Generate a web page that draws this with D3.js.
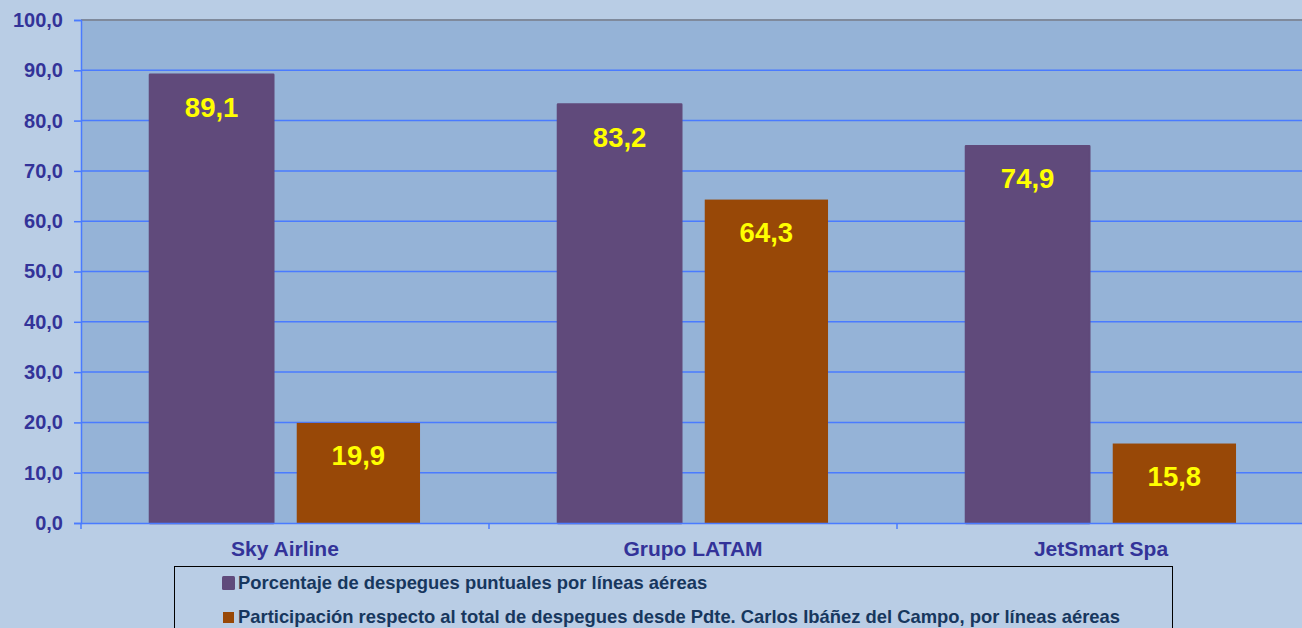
<!DOCTYPE html>
<html>
<head>
<meta charset="utf-8">
<script src="https://cdn.jsdelivr.net/npm/d3@7"></script>
<style>
  body { margin: 0; background: #B9CDE5; }
  svg { display: block; font-family: Arial, "Liberation Sans", sans-serif; }
</style>
</head>
<body>
<div id="chart"></div>
<script>
// data
const airlines = ["Sky Airline", "Grupo LATAM", "JetSmart Spa"]
const puntuales = [89.1, 83.2, 74.9]
const participacion = [19.9, 64.3, 15.8]
const seriesNames = [
    "Porcentaje de despegues puntuales por líneas aéreas",
    "Participación respecto al total de despegues desde Pdte. Carlos Ibáñez del Campo, por líneas aéreas"
]
const yTicks = [0, 10, 20, 30, 40, 50, 60, 70, 80, 90, 100]

const colors = ["#604A7B", "#984807"]

const W = 1302, H = 628
const plot = {left: 81, top: 20, right: 1305, bottom: 523}

const svg = d3.select("#chart").append("svg")
    .attr("width", W)
    .attr("height", H)

svg.append("rect")
    .attr("width", W).attr("height", H)
    .attr("fill", "#B9CDE5")

// scales
const x0 = d3.scaleBand()
    .domain(airlines)
    .range([plot.left, plot.right])
    .paddingInner(0)
    .paddingOuter(0)

const x1 = d3.scaleBand()
    .domain([0, 1])
    .range([0, x0.bandwidth()])
    .paddingInner(0.16)
    .paddingOuter(0.47)

const y = d3.scaleLinear()
    .domain([0, 100])
    .range([plot.bottom, plot.top])

const fmt = d => d3.format(".1f")(d).replace(".", ",")

// plot area
svg.append("rect")
    .attr("x", plot.left).attr("y", plot.top)
    .attr("width", plot.right - plot.left)
    .attr("height", plot.bottom - plot.top)
    .attr("fill", "#95B3D7")

// gridlines
svg.append("g")
    .selectAll("line")
    .data(yTicks.filter(d => d > 0 && d < 100))
    .join("line")
        .attr("x1", plot.left).attr("x2", plot.right)
        .attr("y1", d => y(d)).attr("y2", d => y(d))
        .attr("stroke", "#4A7BFF")
        .attr("stroke-width", 1.5)

// top border
svg.append("line")
    .attr("x1", plot.left).attr("x2", plot.right)
    .attr("y1", plot.top).attr("y2", plot.top)
    .attr("stroke", "#7F8A9C")
    .attr("stroke-width", 2)

// bars
const series = [puntuales, participacion]
const groups = svg.append("g")
    .selectAll("g")
    .data(airlines)
    .join("g")
        .attr("transform", d => `translate(${x0(d)},0)`)

groups.selectAll("rect")
    .data((d, i) => series.map((s, k) => ({k, v: s[i]})))
    .join("rect")
        .attr("x", d => x1(d.k))
        .attr("y", d => y(d.v))
        .attr("width", x1.bandwidth())
        .attr("height", d => y(0) - y(d.v))
        .attr("fill", d => colors[d.k])
        .attr("stroke", d => d.k ? "none" : colors[0])
        .attr("stroke-width", 2.5)
        .attr("stroke-linejoin", "round")

groups.selectAll("text")
    .data((d, i) => series.map((s, k) => ({k, v: s[i]})))
    .join("text")
        .attr("x", d => x1(d.k) + x1.bandwidth() / 2)
        .attr("y", d => y(d.v) + 42)
        .attr("text-anchor", "middle")
        .attr("fill", "#FFFF00")
        .attr("font-weight", "bold")
        .attr("font-size", 27.5)
        .text(d => fmt(d.v))

// y axis
const yAx = d3.axisLeft(y)
    .tickValues(yTicks)
    .tickSize(7)
    .tickFormat(fmt)

const yGroup = svg.append("g")
    .attr("transform", `translate(${plot.left},0)`)
    .call(yAx)

yGroup.select(".domain").attr("stroke", "#4A7BFF").attr("stroke-width", 1.5)
yGroup.selectAll(".tick line").attr("stroke", "#4A7BFF").attr("stroke-width", 1.5)
yGroup.selectAll(".tick text")
    .attr("x", -18)
    .attr("fill", "#333399")
    .attr("font-size", 20)
    .attr("font-weight", "bold")
    .attr("font-family", "Arial, 'Liberation Sans', sans-serif")

// x axis
const xAx = d3.axisBottom(x0).tickSize(0)
const xGroup = svg.append("g")
    .attr("transform", `translate(0,${plot.bottom})`)
    .call(xAx)

xGroup.select(".domain").attr("stroke", "#4A7BFF").attr("stroke-width", 1.5)
xGroup.selectAll(".tick text")
    .attr("y", 18)
    .attr("fill", "#333399")
    .attr("font-size", 21)
    .attr("font-weight", "bold")
    .attr("font-family", "Arial, 'Liberation Sans', sans-serif")

// category separators
svg.append("g")
    .selectAll("line")
    .data(airlines)
    .join("line")
        .attr("x1", d => x0(d)).attr("x2", d => x0(d))
        .attr("y1", plot.bottom).attr("y2", plot.bottom + 6)
        .attr("stroke", "#4A7BFF")
        .attr("stroke-width", 1.5)

// legend
const legend = svg.append("g")
legend.append("rect")
    .attr("x", 174.5).attr("y", 566.5)
    .attr("width", 998).attr("height", 80)
    .attr("fill", "none")
    .attr("stroke", "#000")
    .attr("stroke-width", 1)

const legendItems = legend.selectAll("g")
    .data(seriesNames)
    .join("g")
        .attr("transform", (d, i) => `translate(222,${583 + i * 34})`)

legendItems.append("rect")
    .attr("x", (d, i) => i ? 1 : 0)
    .attr("y", (d, i) => i ? -5 : -7)
    .attr("width", (d, i) => i ? 11 : 13)
    .attr("height", (d, i) => i ? 11 : 14)
    .attr("rx", (d, i) => i ? 0 : 1.5)
    .attr("fill", (d, i) => colors[i])

legendItems.append("text")
    .attr("x", 16)
    .attr("dy", "0.35em")
    .attr("fill", "#17375E")
    .attr("font-size", 18.4)
    .attr("font-weight", "bold")
    .text(d => d)
</script>
</body>
</html>
